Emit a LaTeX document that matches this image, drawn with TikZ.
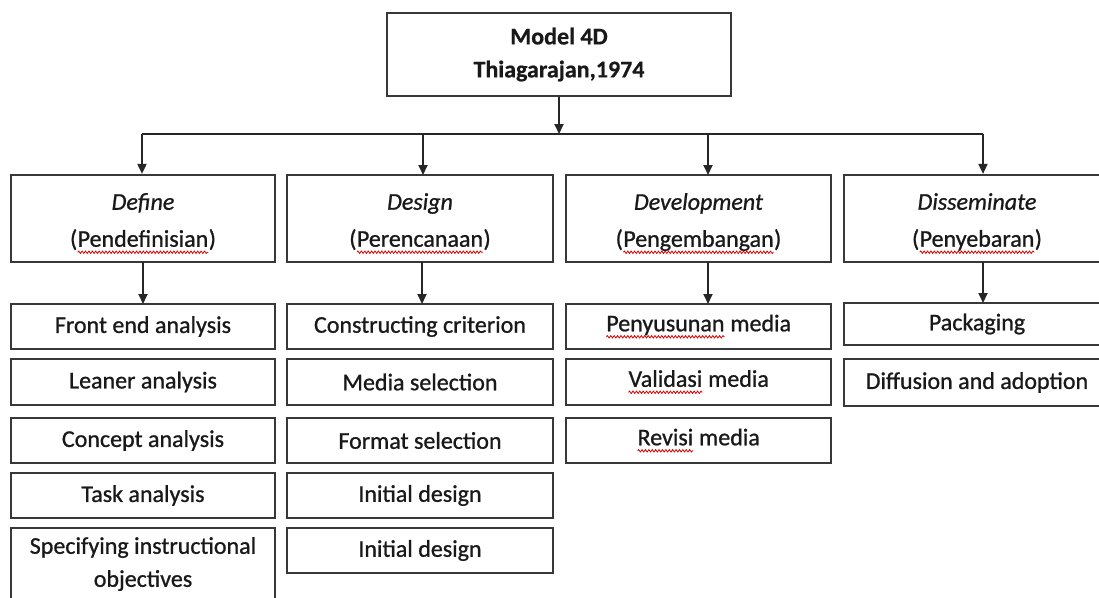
\documentclass[tikz,border=0pt]{standalone}
\usepackage{fontspec}
\setmainfont{Carlito}[UprightFeatures={FakeBold=0.9}, ItalicFeatures={FakeBold=0.9}, BoldFeatures={FakeBold=0.6}]
\usetikzlibrary{arrows.meta,decorations.pathmorphing}
\newcommand{\sq}[1]{\tikz[baseline=(t.base)]{\node[draw=none, inner sep=0pt, outer sep=0pt, minimum width=0pt, minimum height=0pt, rectangle, text=black!90] (t) {#1};
 \draw[draw=red!85!black, line width=0.8pt, decorate, decoration={snake, amplitude=1.2pt, segment length=3.4pt}] ([yshift=-5.5pt]t.base west) -- ([yshift=-5.5pt]t.base east);}}
\newcommand{\dn}[1]{\raisebox{-5pt}[\height][\depth]{#1}}
\tikzset{
  box/.style={draw=black!78, line width=2.2pt, rectangle, inner sep=0pt, align=center,
     font=\fontsize{24}{33}\selectfont, text=black!90},
  item/.style={box, minimum height=45pt},
  phase/.style={box, minimum height=87pt, font=\fontsize{24}{37}\selectfont},
  conn/.style={draw=black!85, line width=1.8pt},
  arr/.style={conn, -{Triangle[length=10pt,width=9pt]}}
}
\begin{document}
\begin{tikzpicture}[x=1pt,y=-1pt]
\useasboundingbox (0,0) rectangle (1099,597);
\clip (0,0) rectangle (1099,597);
% top
\node[box, minimum width=344pt, minimum height=83pt, font=\bfseries\fontsize{24}{33}\selectfont] (top) at (559,54.5) {Model 4D\\Thiagarajan,1974};
% phases
\node[phase, minimum width=264pt] (def) at (143,218.5) {\dn{\textit{Define}}\\\dn{(\sq{Pendefinisian})}};
\node[phase, minimum width=266pt] (des) at (420,218.5) {\dn{\textit{Design}}\\\dn{(\sq{Perencanaan})}};
\node[phase, minimum width=265pt] (dev) at (698.5,218.5) {\dn{\textit{Development}}\\\dn{(\sq{Pengembangan})}};
\node[phase, minimum width=266pt] (dis) at (977,218.5) {\dn{\textit{Disseminate}}\\\dn{(\sq{Penyebaran})}};
% connector from top
\coordinate (bus) at (559,134);
\coordinate (busL) at (142,134);
\coordinate (busR) at (983,134);
\draw[arr] (top.south) -- (bus);
\draw[conn] (busL) -- (busR);
\draw[arr] (busL) -- (busL |- def.north);
\draw[arr] (423,134) -- (423,175);
\draw[arr] (708,134) -- (708,175);
\draw[arr] (busR) -- (busR |- dis.north);
% define items
\node[item, minimum width=264pt] (a1) at (143,326.5) {Front end analysis};
\node[item, minimum width=264pt, minimum height=46pt] (a2) at (143,382) {Leaner analysis};
\node[item, minimum width=264pt] (a3) at (143,440.5) {Concept analysis};
\node[item, minimum width=264pt] (a4) at (143,495.5) {Task analysis};
\node[item, minimum width=264pt, minimum height=72pt] (a5) at (143,564) {Specifying instructional\\objectives};
% design items
\node[item, minimum width=266pt] (b1) at (420,326.5) {Constructing criterion};
\node[item, minimum width=266pt, minimum height=46pt] (b2) at (420,382) {Media selection};
\node[item, minimum width=266pt] (b3) at (420,440.5) {Format selection};
\node[item, minimum width=266pt] (b4) at (420,495.5) {Initial design};
\node[item, minimum width=266pt] (b5) at (420,550.5) {Initial design};
% development items
\node[item, minimum width=265pt] (c1) at (698.5,326.5) {\sq{Penyusunan} media};
\node[item, minimum width=265pt, minimum height=46pt] (c2) at (698.5,382) {\sq{Validasi} media};
\node[item, minimum width=265pt] (c3) at (698.5,440.5) {\sq{Revisi} media};
% disseminate items
\node[item, minimum width=266pt, minimum height=42pt] (d1) at (977,324) {Packaging};
\node[item, minimum width=266pt, minimum height=47pt] (d2) at (977,382.5) {Diffusion and adoption};
% phase to item arrows
\draw[arr] (143,262) -- (143,304);
\draw[arr] (422,262) -- (422,304);
\draw[arr] (708,262) -- (708,304);
\draw[arr] (983,262) -- (983,303);
\end{tikzpicture}
\end{document}
